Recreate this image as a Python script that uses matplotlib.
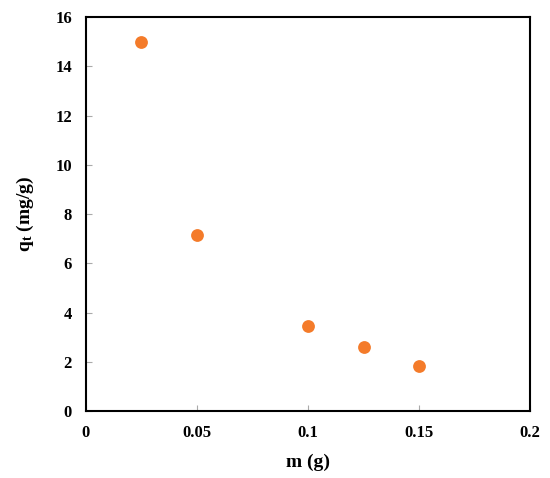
import matplotlib
matplotlib.use("Agg")
import matplotlib.pyplot as plt

m_g = [0.025, 0.05, 0.1, 0.125, 0.15]
qt = [15.0, 7.15, 3.47, 2.62, 1.85]
xticks = [0, 0.05, 0.1, 0.15, 0.2]
xticklabels = ["0", "0.05", "0.1", "0.15", "0.2"]
yticks = [0, 2, 4, 6, 8, 10, 12, 14, 16]

plt.rcParams['font.family'] = ['Liberation Serif', 'DejaVu Serif']
plt.rcParams['mathtext.fontset'] = 'custom'
plt.rcParams['mathtext.rm'] = 'Liberation Serif:bold'
plt.rcParams['mathtext.it'] = 'Liberation Serif:bold'
plt.rcParams['mathtext.bf'] = 'Liberation Serif:bold'

fig = plt.figure(figsize=(5.5, 4.78), dpi=100)
ax = fig.add_axes([0.156, 0.140, 0.808, 0.824])
ax.scatter(m_g, qt, s=85, color='#F47B2A', zorder=3, linewidths=0)
ax.set_xlim(0, 0.2)
ax.set_ylim(0, 16)
ax.set_xticks(xticks)
ax.set_xticklabels(xticklabels)
ax.set_yticks(yticks)
for s in ax.spines.values():
    s.set_linewidth(1.5)
    s.set_color('black')
ax.tick_params(direction='in', length=4, width=0.8, color='#aaaaaa', labelsize=12, pad=10)
for lab in ax.get_xticklabels() + ax.get_yticklabels():
    lab.set_fontweight('bold')
ax.set_xlabel('m (g)', fontsize=14, fontweight='bold', labelpad=9)
ax.set_ylabel(r'q$_\mathregular{t}$ (mg/g)', fontsize=14, fontweight='bold', labelpad=14)
fig.savefig('out.png', dpi=100)
